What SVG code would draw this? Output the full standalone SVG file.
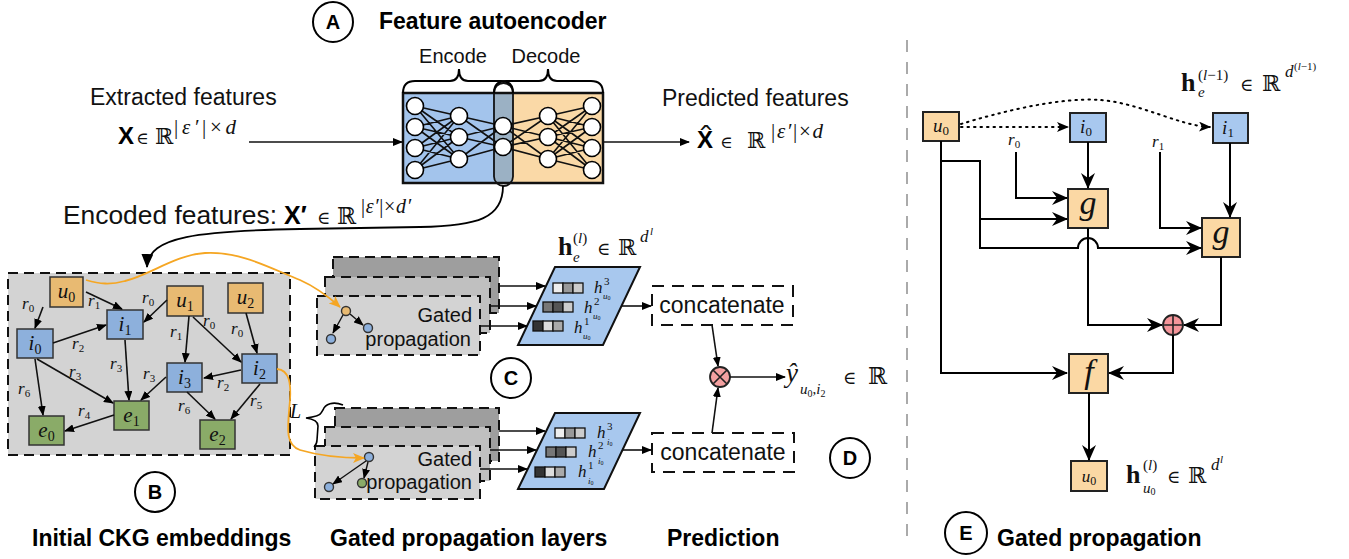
<svg xmlns="http://www.w3.org/2000/svg" width="1349" height="559" viewBox="0 0 1349 559">
<defs>
<marker id="ah" markerUnits="userSpaceOnUse" markerWidth="10" markerHeight="8" refX="9" refY="4" orient="auto"><path d="M0,0 L10,4 L0,8 z" fill="#000"/></marker>
<marker id="ahb" markerUnits="userSpaceOnUse" markerWidth="14" markerHeight="12" refX="13" refY="6" orient="auto"><path d="M0,0 L14,6 L0,12 z" fill="#000"/></marker>
<marker id="st" markerUnits="userSpaceOnUse" markerWidth="16" markerHeight="14" refX="15" refY="7" orient="auto"><path d="M0,0 L16,7 L0,14 L5,7 z" fill="#000"/></marker>
<marker id="aho" markerUnits="userSpaceOnUse" markerWidth="12" markerHeight="10" refX="11" refY="5" orient="auto"><path d="M0,0 L12,5 L0,10 L3,5 z" fill="#f5a623"/></marker>
<marker id="ahd" markerUnits="userSpaceOnUse" markerWidth="12" markerHeight="10" refX="11" refY="5" orient="auto"><path d="M0,0 L12,5 L0,10 L3,5 z" fill="#000"/></marker>
</defs>
<style>
.t{font-family:"Liberation Sans",Arial,sans-serif;fill:#111}
.b{font-family:"Liberation Sans",Arial,sans-serif;font-weight:bold;fill:#000}
.m{font-family:"Liberation Serif","Times New Roman",serif;font-style:italic;fill:#111}
.mb{font-family:"Liberation Serif","Times New Roman",serif;font-weight:bold;fill:#111}
.n{font-style:normal}
.ds{font-family:"DejaVu Serif","DejaVu Sans",serif;fill:#111}
.circ{fill:#fff;stroke:#000;stroke-width:2}
.e{stroke:#111;stroke-width:1.6;fill:none;marker-end:url(#ah)}
.w{stroke:#000;stroke-width:2;fill:none}
.ws{stroke:#000;stroke-width:2;fill:none;marker-end:url(#st)}
.dash{stroke:#111;stroke-width:2;stroke-dasharray:10,6}
.or{fill:#e8ba72;stroke:#333;stroke-width:1.5}
.bl{fill:#8db0dc;stroke:#333;stroke-width:1.5}
.gr{fill:#8aab68;stroke:#333;stroke-width:1.5}
.or2{fill:#fbd8a4;stroke:#222;stroke-width:2}
.bl2{fill:#a8c8ef;stroke:#222;stroke-width:2}
.nn{fill:#fff;stroke:#000;stroke-width:1.6}
.dot{stroke:#000;stroke-width:2;fill:none;stroke-dasharray:1.5,5;stroke-linecap:round;marker-end:url(#ahd)}
</style>
<rect width="1349" height="559" fill="#fff"/>

<!-- Section A -->
<g id="label-A"><circle cx="333" cy="22" r="20" class="circ"/><text x="333" y="29" text-anchor="middle" class="b" font-size="20">A</text></g>
<text x="379" y="29" class="b" font-size="23">Feature autoencoder</text>

<g id="autoencoder">
<rect x="403" y="93" width="92" height="90" fill="#a3c4ec"/>
<rect x="513" y="93" width="90" height="90" fill="#fad9a7"/>
<rect x="495" y="93" width="18" height="90" fill="#9bb1c4"/>
<rect x="403" y="93" width="200" height="90" fill="none" stroke="#111" stroke-width="2.5"/>
<rect x="494" y="83" width="19" height="103" rx="9.5" fill="none" stroke="#111" stroke-width="1.8"/>
<path d="M403,93 Q403,81 415,81 L450,81 Q459,81 459,69 Q459,81 468,81 L501,81 Q513,81 513,93" class="w"/>
<path d="M494,93 Q494,81 506,81 L539,81 Q548,81 548,69 Q548,81 557,81 L591,81 Q603,81 603,93" class="w"/>
<text x="453" y="63" text-anchor="middle" class="t" font-size="20">Encode</text>
<text x="546" y="63" text-anchor="middle" class="t" font-size="20">Decode</text>
<path stroke="#111" stroke-width="1.6" fill="none" d="M415,106L459,116M415,106L459,137M415,106L459,159M415,127L459,116M415,127L459,137M415,127L459,159M415,148L459,116M415,148L459,137M415,148L459,159M415,170L459,116M415,170L459,137M415,170L459,159M459,116L503,126M459,116L503,147M459,137L503,126M459,137L503,147M459,159L503,126M459,159L503,147M503,126L548,116M503,126L548,137M503,126L548,159M503,147L548,116M503,147L548,137M503,147L548,159M548,116L592,106M548,116L592,127M548,116L592,148M548,116L592,170M548,137L592,106M548,137L592,127M548,137L592,148M548,137L592,170M548,159L592,106M548,159L592,127M548,159L592,148M548,159L592,170"/>
<g class="nn">
<circle cx="415" cy="106" r="8.5"/><circle cx="415" cy="127" r="8.5"/><circle cx="415" cy="148" r="8.5"/><circle cx="415" cy="170" r="8.5"/>
<circle cx="459" cy="116" r="8.5"/><circle cx="459" cy="137" r="8.5"/><circle cx="459" cy="159" r="8.5"/>
<circle cx="503" cy="126" r="8.5"/><circle cx="503" cy="147" r="8.5"/>
<circle cx="548" cy="116" r="8.5"/><circle cx="548" cy="137" r="8.5"/><circle cx="548" cy="159" r="8.5"/>
<circle cx="592" cy="106" r="8.5"/><circle cx="592" cy="127" r="8.5"/><circle cx="592" cy="148" r="8.5"/><circle cx="592" cy="170" r="8.5"/>
</g>
</g>

<g id="input-features">
<text x="90" y="105" class="t" font-size="23">Extracted features</text>
<text x="118" y="144" class="b" font-size="24">X</text>
<text x="136" y="144" class="ds" font-size="17">∈</text>
<text x="155" y="144" class="ds" font-size="22">ℝ</text>
<text x="174" y="134" class="m" font-size="21" textLength="62"><tspan class="n">|</tspan>ε′<tspan class="n">|×</tspan>d</text>
</g>
<g id="output-features">
<text x="662" y="106" class="t" font-size="23">Predicted features</text>
<text x="697" y="148" class="b" font-size="24">X</text>
<text x="706" y="146" text-anchor="middle" class="ds" font-size="26" textLength="18" lengthAdjust="spacingAndGlyphs">ˆ</text>
<text x="720" y="148" class="ds" font-size="17">∈</text>
<text x="747" y="148" class="ds" font-size="22">ℝ</text>
<text x="771" y="138" class="m" font-size="21" textLength="52"><tspan class="n">|</tspan>ε′<tspan class="n">|×</tspan>d</text>
</g>
<g id="encoded-features">
<text x="63" y="224" class="t" font-size="25" textLength="214" lengthAdjust="spacingAndGlyphs">Encoded features:</text>
<text x="284" y="224" class="b" font-size="25">X′</text>
<text x="317" y="224" class="ds" font-size="18">∈</text>
<text x="337" y="224" class="ds" font-size="23">ℝ</text>
<text x="361" y="213" class="m" font-size="20" textLength="50"><tspan class="n">|</tspan>ε′<tspan class="n">|×</tspan>d′</text>
</g>

<!-- Section B -->
<g id="ckg-graph">
<rect x="8" y="273" width="282" height="182" fill="#d3d3d3" class="dash"/>
</g>
<g id="node-u0"><rect x="50" y="277" width="33" height="30" class="or"/><text x="66.5" y="298" text-anchor="middle" class="m" font-size="21">u<tspan class="n" font-size="14" dy="4">0</tspan></text></g>
<g id="node-i1"><rect x="107" y="310" width="36" height="29" class="bl"/><text x="125" y="331" text-anchor="middle" class="m" font-size="21">i<tspan class="n" font-size="14" dy="4">1</tspan></text></g>
<g id="node-u1"><rect x="167" y="286" width="36" height="30" class="or"/><text x="185" y="307" text-anchor="middle" class="m" font-size="21">u<tspan class="n" font-size="14" dy="4">1</tspan></text></g>
<g id="node-u2"><rect x="228" y="283" width="35" height="30" class="or"/><text x="245.5" y="304" text-anchor="middle" class="m" font-size="21">u<tspan class="n" font-size="14" dy="4">2</tspan></text></g>
<g id="node-i0"><rect x="17" y="329" width="36" height="29" class="bl"/><text x="35" y="350" text-anchor="middle" class="m" font-size="21">i<tspan class="n" font-size="14" dy="4">0</tspan></text></g>
<g id="node-i2"><rect x="242" y="354" width="35" height="29" class="bl"/><text x="259.5" y="375" text-anchor="middle" class="m" font-size="21">i<tspan class="n" font-size="14" dy="4">2</tspan></text></g>
<g id="node-i3"><rect x="167" y="363" width="35" height="29" class="bl"/><text x="184.5" y="384" text-anchor="middle" class="m" font-size="21">i<tspan class="n" font-size="14" dy="4">3</tspan></text></g>
<g id="node-e1"><rect x="114" y="401" width="35" height="29" class="gr"/><text x="131.5" y="422" text-anchor="middle" class="m" font-size="21">e<tspan class="n" font-size="14" dy="4">1</tspan></text></g>
<g id="node-e0"><rect x="29" y="416" width="35" height="29" class="gr"/><text x="46.5" y="437" text-anchor="middle" class="m" font-size="21">e<tspan class="n" font-size="14" dy="4">0</tspan></text></g>
<g id="node-e2"><rect x="200" y="420" width="35" height="29" class="gr"/><text x="217.5" y="441" text-anchor="middle" class="m" font-size="21">e<tspan class="n" font-size="14" dy="4">2</tspan></text></g>

<g id="ckg-edges">
<path class="e" d="M43,307 L35,328"/>
<path class="e" d="M86,292 L122,309"/>
<path class="e" d="M53,343 L106,325"/>
<path class="e" d="M167,300 L144,322"/>
<path class="e" d="M189,316 L185,362"/>
<path class="e" d="M193,317 L241,362"/>
<path class="e" d="M246,313 L257,353"/>
<path class="e" d="M125,340 L129,400"/>
<path class="e" d="M37,359 L113,403"/>
<path class="e" d="M35,359 L43,415"/>
<path class="e" d="M166,377 L141,400"/>
<path class="e" d="M241,370 L204,378"/>
<path class="e" d="M187,392 L215,419"/>
<path class="e" d="M260,384 L231,419"/>
<path class="e" d="M114,415 L65,431"/>
<g class="m" font-size="17">
<text x="22" y="309">r<tspan class="n" font-size="11" dy="3">0</tspan></text>
<text x="88" y="306">r<tspan class="n" font-size="11" dy="3">1</tspan></text>
<text x="72" y="349">r<tspan class="n" font-size="11" dy="3">2</tspan></text>
<text x="142" y="303">r<tspan class="n" font-size="11" dy="3">0</tspan></text>
<text x="170" y="337">r<tspan class="n" font-size="11" dy="3">1</tspan></text>
<text x="203" y="326">r<tspan class="n" font-size="11" dy="3">0</tspan></text>
<text x="231" y="334">r<tspan class="n" font-size="11" dy="3">0</tspan></text>
<text x="110" y="369">r<tspan class="n" font-size="11" dy="3">3</tspan></text>
<text x="69" y="377">r<tspan class="n" font-size="11" dy="3">3</tspan></text>
<text x="18" y="394">r<tspan class="n" font-size="11" dy="3">6</tspan></text>
<text x="143" y="379">r<tspan class="n" font-size="11" dy="3">3</tspan></text>
<text x="217" y="388">r<tspan class="n" font-size="11" dy="3">2</tspan></text>
<text x="178" y="411">r<tspan class="n" font-size="11" dy="3">6</tspan></text>
<text x="250" y="406">r<tspan class="n" font-size="11" dy="3">5</tspan></text>
<text x="78" y="416">r<tspan class="n" font-size="11" dy="3">4</tspan></text>
</g>
</g>

<g id="label-B"><circle cx="155" cy="492" r="20" class="circ"/><text x="155" y="499" text-anchor="middle" class="b" font-size="20">B</text></g>
<text x="32" y="546" class="b" font-size="23">Initial CKG embeddings</text>

<!-- Section C -->
<g id="gated-layers-top">
<rect x="333" y="257" width="166" height="56" fill="#9e9e9e" class="dash"/>
<rect x="325" y="277" width="165" height="56" fill="#c0c0c0" class="dash"/>
<rect x="317" y="296" width="163" height="59" fill="#d3d3d3" class="dash"/>
<text x="472" y="322" text-anchor="end" class="t" font-size="20">Gated</text>
<text x="471" y="346" text-anchor="end" class="t" font-size="20">propagation</text>
<path class="e" d="M343,315 L333,333" style="stroke-width:1.4"/>
<path class="e" d="M350,314 L363,325" style="stroke-width:1.4"/>
<circle cx="346" cy="311" r="4.5" fill="#e8ba72" stroke="#333" stroke-width="1.4"/>
<circle cx="331" cy="339" r="4.5" fill="#8db0dc" stroke="#333" stroke-width="1.4"/>
<circle cx="368" cy="328" r="4.5" fill="#8db0dc" stroke="#333" stroke-width="1.4"/>
</g>
<g id="embedding-top">
<path d="M555,267 L640,267 L603,345 L518,345 Z" fill="#a8c8ee" stroke="#111" stroke-width="2"/>
<g stroke="#111" stroke-width="1.3">
<rect x="553" y="283" width="10" height="10" fill="#eee"/><rect x="563" y="283" width="10" height="10" fill="#999"/><rect x="573" y="283" width="10" height="10" fill="#ccc"/>
<rect x="543" y="302" width="10" height="10" fill="#777"/><rect x="553" y="302" width="10" height="10" fill="#555"/><rect x="563" y="302" width="10" height="10" fill="#ccc"/>
<rect x="533" y="321" width="10" height="10" fill="#333"/><rect x="543" y="321" width="10" height="10" fill="#ddd"/><rect x="553" y="321" width="10" height="10" fill="#aaa"/>
</g>
<g class="m">
<text x="594" y="293" font-size="17">h</text><text x="604" y="285" font-size="11" class="n">3</text><text x="603" y="299" font-size="9">u<tspan font-size="6" class="n" dy="1">0</tspan></text>
<text x="584" y="313" font-size="17">h</text><text x="594" y="305" font-size="11" class="n">2</text><text x="593" y="319" font-size="9">u<tspan font-size="6" class="n" dy="1">0</tspan></text>
<text x="574" y="333" font-size="17">h</text><text x="584" y="325" font-size="11" class="n">1</text><text x="583" y="339" font-size="9">u<tspan font-size="6" class="n" dy="1">0</tspan></text>
</g>
<text x="558" y="255" class="mb" font-size="26">h</text>
<text x="573" y="243" class="m" font-size="15"><tspan class="n">(</tspan>l<tspan class="n">)</tspan></text>
<text x="573" y="262" class="m" font-size="15">e</text>
<text x="597" y="255" class="ds" font-size="18">∈</text>
<text x="618" y="255" class="ds" font-size="22">ℝ</text>
<text x="640" y="242" class="m" font-size="17">d</text>
<text x="650" y="235" class="m" font-size="11">l</text>
</g>

<g id="gated-layers-bottom">
<rect x="335" y="408" width="164" height="53" fill="#9e9e9e" class="dash"/>
<rect x="325" y="427" width="165" height="54" fill="#c0c0c0" class="dash"/>
<rect x="315" y="446" width="165" height="53" fill="#d3d3d3" class="dash"/>
<text x="472" y="466" text-anchor="end" class="t" font-size="20">Gated</text>
<text x="472" y="489" text-anchor="end" class="t" font-size="20">propagation</text>
<path class="e" d="M366,461 L333,484" style="stroke-width:1.4"/>
<path class="e" d="M368,462 L364,478" style="stroke-width:1.4"/>
<circle cx="369" cy="457" r="4.5" fill="#8db0dc" stroke="#333" stroke-width="1.4"/>
<circle cx="329" cy="487" r="4.5" fill="#8db0dc" stroke="#333" stroke-width="1.4"/>
<circle cx="362" cy="483" r="4.5" fill="#8aab68" stroke="#333" stroke-width="1.4"/>
<path d="M343,405 C333,401 325,404 323,410 L321,413 C320,416 314,417 306,418 C314,419 318,421 318,426 L317,440 C317,443 316,445 314,447" class="w" style="stroke-width:1.6"/>
<text x="290" y="418" class="m" font-size="20">L</text>
</g>
<g id="embedding-bottom">
<path d="M555,413 L640,413 L604,489 L518,489 Z" fill="#a8c8ee" stroke="#111" stroke-width="2"/>
<g stroke="#111" stroke-width="1.3">
<rect x="555" y="428" width="10" height="10" fill="#eee"/><rect x="565" y="428" width="10" height="10" fill="#999"/><rect x="575" y="428" width="10" height="10" fill="#ccc"/>
<rect x="546" y="447" width="10" height="10" fill="#777"/><rect x="556" y="447" width="10" height="10" fill="#555"/><rect x="566" y="447" width="10" height="10" fill="#ccc"/>
<rect x="535" y="467" width="10" height="10" fill="#333"/><rect x="545" y="467" width="10" height="10" fill="#ddd"/><rect x="555" y="467" width="10" height="10" fill="#aaa"/>
</g>
<g class="m">
<text x="597" y="438" font-size="17">h</text><text x="607" y="430" font-size="11" class="n">3</text><text x="607" y="445" font-size="9">i<tspan font-size="6" class="n" dy="1">0</tspan></text>
<text x="588" y="457" font-size="17">h</text><text x="598" y="449" font-size="11" class="n">2</text><text x="598" y="464" font-size="9">i<tspan font-size="6" class="n" dy="1">0</tspan></text>
<text x="578" y="477" font-size="17">h</text><text x="588" y="469" font-size="11" class="n">1</text><text x="588" y="484" font-size="9">i<tspan font-size="6" class="n" dy="1">0</tspan></text>
</g>
</g>
<g id="label-C"><circle cx="511" cy="378" r="20" class="circ"/><text x="511" y="385" text-anchor="middle" class="b" font-size="20">C</text></g>
<text x="330" y="546" class="b" font-size="23">Gated propagation layers</text>

<!-- Section D -->
<g id="concat-top"><rect x="652" y="286" width="141" height="39" fill="#fff" class="dash" style="stroke-dasharray:12,8"/><text x="722" y="313" text-anchor="middle" class="t" font-size="23">concatenate</text></g>
<g id="concat-bottom"><rect x="652" y="433" width="142" height="39" fill="#fff" class="dash" style="stroke-dasharray:12,8"/><text x="723" y="460" text-anchor="middle" class="t" font-size="23">concatenate</text></g>
<g id="otimes"><circle cx="720" cy="377" r="10" fill="#f4a0a0" stroke="#222" stroke-width="1.8"/><path d="M713,370 L727,384 M727,370 L713,384" stroke="#222" stroke-width="1.6"/></g>
<g id="prediction-output">
<text x="786" y="382" class="m" font-size="27">ŷ</text>
<text x="800" y="394" class="m" font-size="15">u<tspan class="n" font-size="10" dy="3">0</tspan><tspan class="n" dy="-3">,</tspan>i<tspan class="n" font-size="10" dy="3">2</tspan></text>
<text x="843" y="384" class="ds" font-size="18">∈</text>
<text x="868" y="384" class="ds" font-size="23">ℝ</text>
</g>
<g id="label-D"><circle cx="850" cy="458" r="20" class="circ"/><text x="850" y="465" text-anchor="middle" class="b" font-size="20">D</text></g>
<text x="667" y="546" class="b" font-size="23">Prediction</text>

<g id="connectors-left">
<line x1="249" y1="142" x2="402" y2="142" class="e"/>
<line x1="604" y1="142" x2="689" y2="142" class="e"/>
<path d="M503,186 C503,218 478,226 420,227 L300,229 C200,231 148,236 147,267" fill="none" stroke="#000" stroke-width="1.8" marker-end="url(#ahb)"/>
<path d="M86,280 C100,284 110,285 125,281 C150,275 175,255 205,253 C240,251 270,268 300,280 C318,288 330,298 340,307" fill="none" stroke="#f5a623" stroke-width="1.8" marker-end="url(#aho)"/>
<path d="M277,369 C290,370 291,385 290,400 C288,425 284,445 300,450 C320,456 345,458 364,458" fill="none" stroke="#f5a623" stroke-width="1.8" marker-end="url(#aho)"/>
<path class="e" d="M499,286 L545,286"/>
<path class="e" d="M490,306 L536,306"/>
<path class="e" d="M480,326 L527,326"/>
<path class="e" d="M499,431 L545,431"/>
<path class="e" d="M490,450 L536,450"/>
<path class="e" d="M480,469 L527,469"/>
<path class="e" d="M621,306 L651,306"/>
<path class="e" d="M622,450 L651,450"/>
<path class="e" d="M712,325 L718,366"/>
<path class="e" d="M712,433 L718,388"/>
<path class="e" d="M730,377 L785,377"/>
</g>

<!-- Section E -->
<line x1="907" y1="40" x2="907" y2="545" stroke="#aaa" stroke-width="2" stroke-dasharray="12,10"/>
<g id="e-u0"><rect x="923" y="112" width="36" height="29" class="or2"/><text x="941" y="132" text-anchor="middle" class="m" font-size="19">u<tspan class="n" font-size="13" dy="3">0</tspan></text></g>
<g id="e-i0"><rect x="1070" y="113" width="36" height="29" class="bl2"/><text x="1086" y="133" text-anchor="middle" class="m" font-size="19">i<tspan class="n" font-size="13" dy="3">0</tspan></text></g>
<g id="e-i1"><rect x="1213" y="113" width="35" height="30" class="bl2"/><text x="1228" y="134" text-anchor="middle" class="m" font-size="19">i<tspan class="n" font-size="13" dy="3">1</tspan></text></g>
<g id="e-g1"><rect x="1068" y="189" width="40" height="39" class="or2"/><text x="1088" y="214" text-anchor="middle" class="m" font-size="34">g</text></g>
<g id="e-g2"><rect x="1202" y="218" width="38" height="39" class="or2"/><text x="1221" y="243" text-anchor="middle" class="m" font-size="34">g</text></g>
<g id="e-oplus"><circle cx="1173" cy="325" r="10" fill="#f4959a" stroke="#222" stroke-width="1.8"/><path d="M1163,325 L1183,325 M1173,315 L1173,335" stroke="#222" stroke-width="1.6"/></g>
<g id="e-f"><rect x="1069" y="354" width="39" height="39" class="or2"/><text x="1089" y="383" text-anchor="middle" class="m" font-size="34">f</text></g>
<g id="e-u0-out"><rect x="1071" y="461" width="36" height="30" class="or2"/><text x="1089" y="482" text-anchor="middle" class="m" font-size="17">u<tspan class="n" font-size="12" dy="3">0</tspan></text></g>
<g id="e-r-labels" class="m" font-size="17">
<text x="1008" y="145">r<tspan class="n" font-size="11" dy="3">0</tspan></text>
<text x="1152" y="147">r<tspan class="n" font-size="11" dy="3">1</tspan></text>
</g>
<g id="e-formulas">
<text x="1181" y="91" class="mb" font-size="26">h</text>
<text x="1198" y="80" class="m" font-size="15"><tspan class="n">(</tspan>l<tspan class="n">−1)</tspan></text>
<text x="1198" y="97" class="m" font-size="15">e</text>
<text x="1240" y="91" class="ds" font-size="18">∈</text>
<text x="1262" y="91" class="ds" font-size="22">ℝ</text>
<text x="1285" y="77" class="m" font-size="17">d</text>
<text x="1294" y="70" class="m" font-size="11"><tspan class="n">(</tspan>l<tspan class="n">−1)</tspan></text>
<text x="1126" y="483" class="mb" font-size="26">h</text>
<text x="1143" y="470" class="m" font-size="15"><tspan class="n">(</tspan>l<tspan class="n">)</tspan></text>
<text x="1143" y="493" class="m" font-size="15">u<tspan class="n" font-size="10" dy="2">0</tspan></text>
<text x="1167" y="483" class="ds" font-size="18">∈</text>
<text x="1188" y="483" class="ds" font-size="22">ℝ</text>
<text x="1211" y="470" class="m" font-size="17">d</text>
<text x="1220" y="463" class="m" font-size="11">l</text>
</g>
<g id="connectors-E">
<path class="dot" d="M961,127 L1068,127"/>
<path class="dot" d="M961,124 C1000,112 1060,97 1100,100 C1140,103 1180,126 1210,127"/>
<path class="ws" d="M1016,152 L1016,198 L1067,198"/>
<path class="ws" d="M1088,142 L1088,188"/>
<path class="w" d="M941,141 L941,373 L1067,373" marker-end="url(#st)"/>
<path class="ws" d="M941,161 L980,161 L980,219 L1067,219"/>
<path class="ws" d="M980,219 L980,248 L1078,248 A10,10 0 0 1 1098,248 L1201,248"/>
<path class="ws" d="M1160,152 L1160,228 L1201,228"/>
<path class="ws" d="M1230,143 L1230,217"/>
<path class="ws" d="M1088,228 L1088,325 L1162,325"/>
<path class="ws" d="M1221,257 L1221,325 L1184,325"/>
<path class="ws" d="M1173,335 L1173,373 L1109,373"/>
<path class="ws" d="M1089,393 L1089,460"/>
</g>
<g id="label-E"><circle cx="966" cy="533" r="21" class="circ"/><text x="966" y="540" text-anchor="middle" class="b" font-size="20">E</text></g>
<text x="997" y="546" class="b" font-size="23">Gated propagation</text>
</svg>
